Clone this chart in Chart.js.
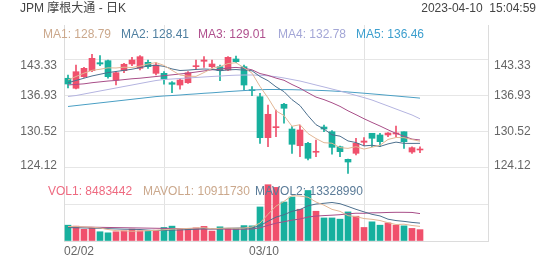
<!DOCTYPE html>
<html><head><meta charset="utf-8">
<script src="https://cdn.jsdelivr.net/npm/chart.js@4.4.0/dist/chart.umd.min.js"></script>
<style>
html,body{margin:0;padding:0;background:#fff;}
#wrap{position:relative;width:552px;height:265px;overflow:hidden;background:#fff;}
canvas{position:absolute;left:0;top:0;}
.t{position:absolute;font-family:"Liberation Sans",Arial,"Noto Sans CJK SC",sans-serif;font-size:12px;line-height:14px;white-space:pre;}
</style></head><body>
<div id="wrap">
<canvas id="c" width="552" height="265"></canvas>
<div class="t" style="left:20px;top:1px;color:#444">JPM 摩根大通 - 日K</div>
<div class="t" style="right:16px;top:1px;color:#444">2023-04-10  15:04:59</div>
<div class="t" style="left:43px;top:27px;color:#cba88c">MA1: 128.79</div>
<div class="t" style="left:121px;top:27px;color:#4f7fa0">MA2: 128.41</div>
<div class="t" style="left:198px;top:27px;color:#b0508e">MA3: 129.01</div>
<div class="t" style="left:278px;top:27px;color:#a3a6d6">MA4: 132.78</div>
<div class="t" style="left:356px;top:27px;color:#3d9fce">MA5: 136.46</div>
<div class="t" style="left:48px;top:184px;color:#ee6a80">VOL1: 8483442</div>
<div class="t" style="left:143px;top:184px;color:#cba88c">MAVOL1: 10911730</div>
<div class="t" style="left:255px;top:184px;color:#5a7b98">MAVOL2: 13328990</div>
</div>
<script>
const dates = ["02/02","02/03","02/06","02/07","02/08","02/09","02/10","02/13","02/14","02/15","02/16","02/17","02/21","02/22","02/23","02/24","02/27","02/28","03/01","03/02","03/03","03/06","03/07","03/08","03/09","03/10","03/13","03/14","03/15","03/16","03/17","03/20","03/21","03/22","03/23","03/24","03/27","03/28","03/29","03/30","03/31","04/03","04/04","04/05","04/06"];
const open  = [139.99,138.21,140.27,141.34,142.76,143.12,139.68,141.34,142.53,141.76,142.83,140.87,140.87,139.20,138.79,139.20,142.05,143.01,142.05,142.05,141.46,143.42,142.05,137.90,136.71,129.42,131.20,135.36,130.96,127.99,128.42,126.82,131.32,130.48,127.81,125.57,126.64,128.60,130.20,129.90,129.90,130.08,130.48,126.87,127.23];
const high  = [140.57,142.35,141.94,144.26,144.01,143.24,141.16,142.65,143.72,144.01,143.24,142.76,141.16,139.38,139.99,141.16,143.24,143.83,143.24,142.35,143.83,143.95,142.35,138.49,137.32,135.24,134.35,135.54,131.38,131.68,128.60,129.01,131.68,130.70,127.94,125.60,129.31,129.42,130.20,130.20,130.31,131.50,130.48,127.81,127.81];
const low   = [138.26,138.10,140.15,141.16,142.23,139.99,138.79,140.98,142.23,141.46,141.76,140.57,138.92,137.42,138.03,139.09,141.59,141.94,141.87,139.56,141.34,142.76,137.90,136.89,128.42,127.81,129.60,131.98,126.64,126.04,125.45,126.04,130.48,126.50,126.04,123.08,126.34,128.00,127.81,127.81,129.60,129.60,127.52,126.64,126.74];
const close = [138.97,141.16,141.76,143.54,142.53,140.27,140.98,142.48,143.24,143.83,142.05,142.35,139.86,138.92,139.68,140.98,142.23,143.24,142.53,141.34,143.72,142.94,138.79,137.78,129.42,133.58,131.38,134.65,128.24,130.79,125.75,126.93,130.96,127.70,126.93,125.09,128.42,128.83,129.31,128.71,130.25,130.13,128.71,127.64,127.35];
const ma1 = [139.70,140.30,140.90,141.40,141.59,141.85,141.82,141.96,141.90,142.16,142.52,142.79,142.27,141.40,140.57,140.36,140.33,141.01,141.73,142.06,142.61,142.75,141.86,140.91,138.53,136.50,134.19,133.36,131.45,131.73,130.16,129.27,128.53,128.43,127.65,127.52,127.82,127.39,127.72,128.07,129.10,129.45,129.42,129.09,128.79];
const ma2 = [139.20,139.60,140.00,140.40,140.70,141.00,141.20,141.40,141.60,141.88,142.18,142.30,142.11,141.65,141.37,141.44,141.56,141.64,141.57,141.32,141.49,141.54,141.44,141.32,140.30,139.56,138.47,137.61,136.18,135.13,133.33,131.73,130.95,129.94,129.69,128.84,128.55,127.96,128.07,127.86,128.31,128.63,128.41,128.40,128.41];
const ma3 = [138.80,138.90,139.00,139.20,139.35,139.50,139.60,139.75,139.90,140.00,140.15,140.30,140.45,140.60,140.75,140.90,141.10,141.30,141.50,141.60,141.83,141.92,141.78,141.49,140.83,140.50,140.02,139.63,138.88,138.22,137.41,136.64,136.19,135.63,134.99,134.20,133.51,132.79,132.13,131.50,130.82,130.18,129.68,129.17,129.01];
const ma4 = [136.75,136.92,137.19,137.46,137.73,137.99,138.26,138.53,138.79,139.06,139.33,139.59,139.77,139.86,139.95,140.04,140.13,140.22,140.31,140.39,140.48,140.54,140.57,140.57,140.52,140.43,140.27,140.04,139.77,139.50,139.15,138.79,138.44,138.08,137.73,137.33,136.94,136.55,136.12,135.59,135.06,134.52,133.99,133.46,132.78];
const ma5 = [134.97,135.13,135.29,135.45,135.61,135.77,135.93,136.09,136.25,136.41,136.57,136.73,136.84,136.92,137.01,137.12,137.21,137.32,137.40,137.51,137.62,137.71,137.80,137.89,137.96,137.99,137.99,137.97,137.96,137.92,137.89,137.85,137.80,137.73,137.64,137.55,137.44,137.33,137.21,137.09,136.96,136.84,136.71,136.59,136.46];
const volume = [11800000,11100000,8700000,10100000,6900000,6100000,6900000,7600000,8900000,7600000,7400000,8100000,10100000,11100000,8900000,8700000,9800000,10900000,7400000,10600000,9400000,9400000,11500000,11300000,25400000,42000000,40000000,29100000,32800000,23700000,37700000,22200000,17200000,17200000,16300000,21700000,18500000,10100000,14300000,11800000,13500000,11800000,11300000,9400000,8483442];
const mavol1 = [10800000,10900000,10500000,10300000,9720000,8580000,7740000,7520000,7280000,7420000,7680000,7920000,8420000,8860000,9120000,9380000,9720000,9880000,9140000,9480000,9620000,9540000,9660000,10440000,13400000,19920000,26040000,29560000,33860000,33520000,32660000,29100000,26720000,23600000,22120000,18920000,18180000,16760000,16180000,15280000,13640000,12300000,12540000,11560000,10911730];
const mavol2 = [10000000,9900000,9700000,9600000,9400000,9200000,9000000,8800000,8700000,8570000,8130000,7830000,7970000,8070000,8270000,8530000,8820000,9150000,9000000,9300000,9500000,9630000,9770000,9790000,11440000,14770000,17790000,19610000,22150000,23460000,26290000,27570000,28140000,28730000,27820000,25790000,23640000,21740000,19890000,18700000,16280000,15240000,14650000,13870000,13328990];
const mavol3 = [10600000,10500000,10400000,10300000,10200000,10100000,10000000,9900000,9800000,9700000,9600000,9500000,9400000,9350000,9300000,9200000,9100000,9000000,8950000,8940000,8820000,8730000,8870000,8930000,9860000,11650000,13310000,14380000,15580000,16380000,17900000,18600000,18960000,19260000,19630000,20280000,20720000,20680000,21020000,21080000,21290000,21410000,21400000,21300000,20450000];
const priceTicks = [124.12,130.52,136.93,143.33];
const volTicks = [0,27382061];
const volTickLabels = ["万股","27382061"];
const xTickPos = [-0.5,24.5,49.5];

const UP='#f0506c', DOWN='#17b09e';
const FONT='"Liberation Sans", Arial, "Noto Sans CJK SC", sans-serif';
const pts = arr => arr.map((v,i)=>({x:i,y:v}));
const isUp = i => close[i] >= open[i];
const colorOf = ctx => isUp(ctx.dataIndex) ? UP : DOWN;

const lineDs = (data, color, axis) => ({type:'line', data:pts(data), yAxisID:axis, borderColor:color, borderWidth:1, pointRadius:0, tension:0, order:0, fill:false});

const labelAlign = {
  id:'labelAlign',
  beforeDraw(chart){
    ['y','y2','v','v2'].forEach(id=>{
      const s = chart.scales[id];
      const items = s.getLabelItems();
      const n = items.length;
      const isPrice = (id==='y'||id==='y2');
      items.forEach((it,k)=>{
        if (k===n-1) it.options.textBaseline='top';
        else if (k===0 && !isPrice) it.options.textBaseline='bottom';
        else if (k===0 && isPrice && !it._shifted) { it.options.textBaseline='middle'; it.options.translation[1]-=2; it._shifted=true; }
        else it.options.textBaseline='middle';
      });
    });
  }
};

const tickFont = {family:FONT, size:12};
new Chart(document.getElementById('c'), {
  type:'bar',
  data:{datasets:[
    lineDs(ma1,'#e2b694','y'),
    lineDs(ma2,'#4d708e','y'),
    lineDs(ma3,'#a84e88','y'),
    lineDs(ma4,'#b4b4e0','y'),
    lineDs(ma5,'#4a9fc4','y'),
    lineDs(mavol1,'#e2b694','v'),
    lineDs(mavol2,'#4d708e','v'),
    lineDs(mavol3,'#a84e88','v'),
    {data:low.map((l,i)=>({x:i,y:[l,high[i]]})), yAxisID:'y', backgroundColor:colorOf, barThickness:1, grouped:false, order:2, borderSkipped:false},
    {data:open.map((o,i)=>({x:i,y:[o,close[i]]})), yAxisID:'y', backgroundColor:colorOf, barThickness:6, minBarLength:1, grouped:false, order:1, borderSkipped:false},
    {data:pts(volume), yAxisID:'v', backgroundColor:colorOf, barThickness:6, grouped:false, order:1}
  ]},
  options:{
    responsive:false, animation:false, devicePixelRatio:1,
    layout:{padding:{top:25,left:0,right:0,bottom:0}},
    plugins:{legend:{display:false}, tooltip:{enabled:false}},
    scales:{
      x:{type:'linear', min:-0.5, max:52.5, offset:false,
         afterBuildTicks:s=>{s.ticks = xTickPos.map(v=>({value:v}));},
         afterFit:s=>{s.height=24;},
         ticks:{callback:v=>dates[Math.round(v+0.5)]||'', align:'inner', maxRotation:0, minRotation:0, autoSkip:false, padding:3, color:'#666', font:tickFont},
         grid:{color:'#e2e2e2', drawTicks:false}, border:{color:'#dcdcdc'}},
      y:{type:'linear', position:'left', weight:1, min:111.037, max:149.468,
         afterBuildTicks:s=>{s.ticks = priceTicks.map(v=>({value:v}));},
         afterFit:s=>{s.width=64;},
         ticks:{callback:v=>v.toFixed(2), padding:7, color:'#666', font:tickFont},
         grid:{color:'#e6e6e6', drawTicks:false}, border:{color:'#dcdcdc'}},
      y2:{type:'linear', position:'right', weight:1, min:111.037, max:149.468,
         afterBuildTicks:s=>{s.ticks = priceTicks.map(v=>({value:v}));},
         afterFit:s=>{s.width=64;},
         ticks:{callback:v=>v.toFixed(2), padding:6, color:'#666', font:tickFont},
         grid:{drawOnChartArea:false, drawTicks:false}, border:{color:'#dcdcdc'}},
      v:{type:'linear', position:'left', weight:0, min:0, max:161160000,
         afterBuildTicks:s=>{s.ticks = volTicks.map(v=>({value:v}));},
         afterFit:s=>{s.width=0;},
         ticks:{callback:(v,i)=>volTickLabels[i], padding:7, color:'#666', font:tickFont},
         grid:{color:'#e6e6e6', drawTicks:false}, border:{display:false}},
      v2:{type:'linear', position:'right', weight:0, min:0, max:161160000,
         afterBuildTicks:s=>{s.ticks = volTicks.map(v=>({value:v}));},
         afterFit:s=>{s.width=0;},
         ticks:{callback:(v,i)=>volTickLabels[i], padding:6, color:'#666', font:tickFont},
         grid:{drawOnChartArea:false, drawTicks:false}, border:{display:false}}
    }
  },
  plugins:[labelAlign]
});
</script>
</body></html>
